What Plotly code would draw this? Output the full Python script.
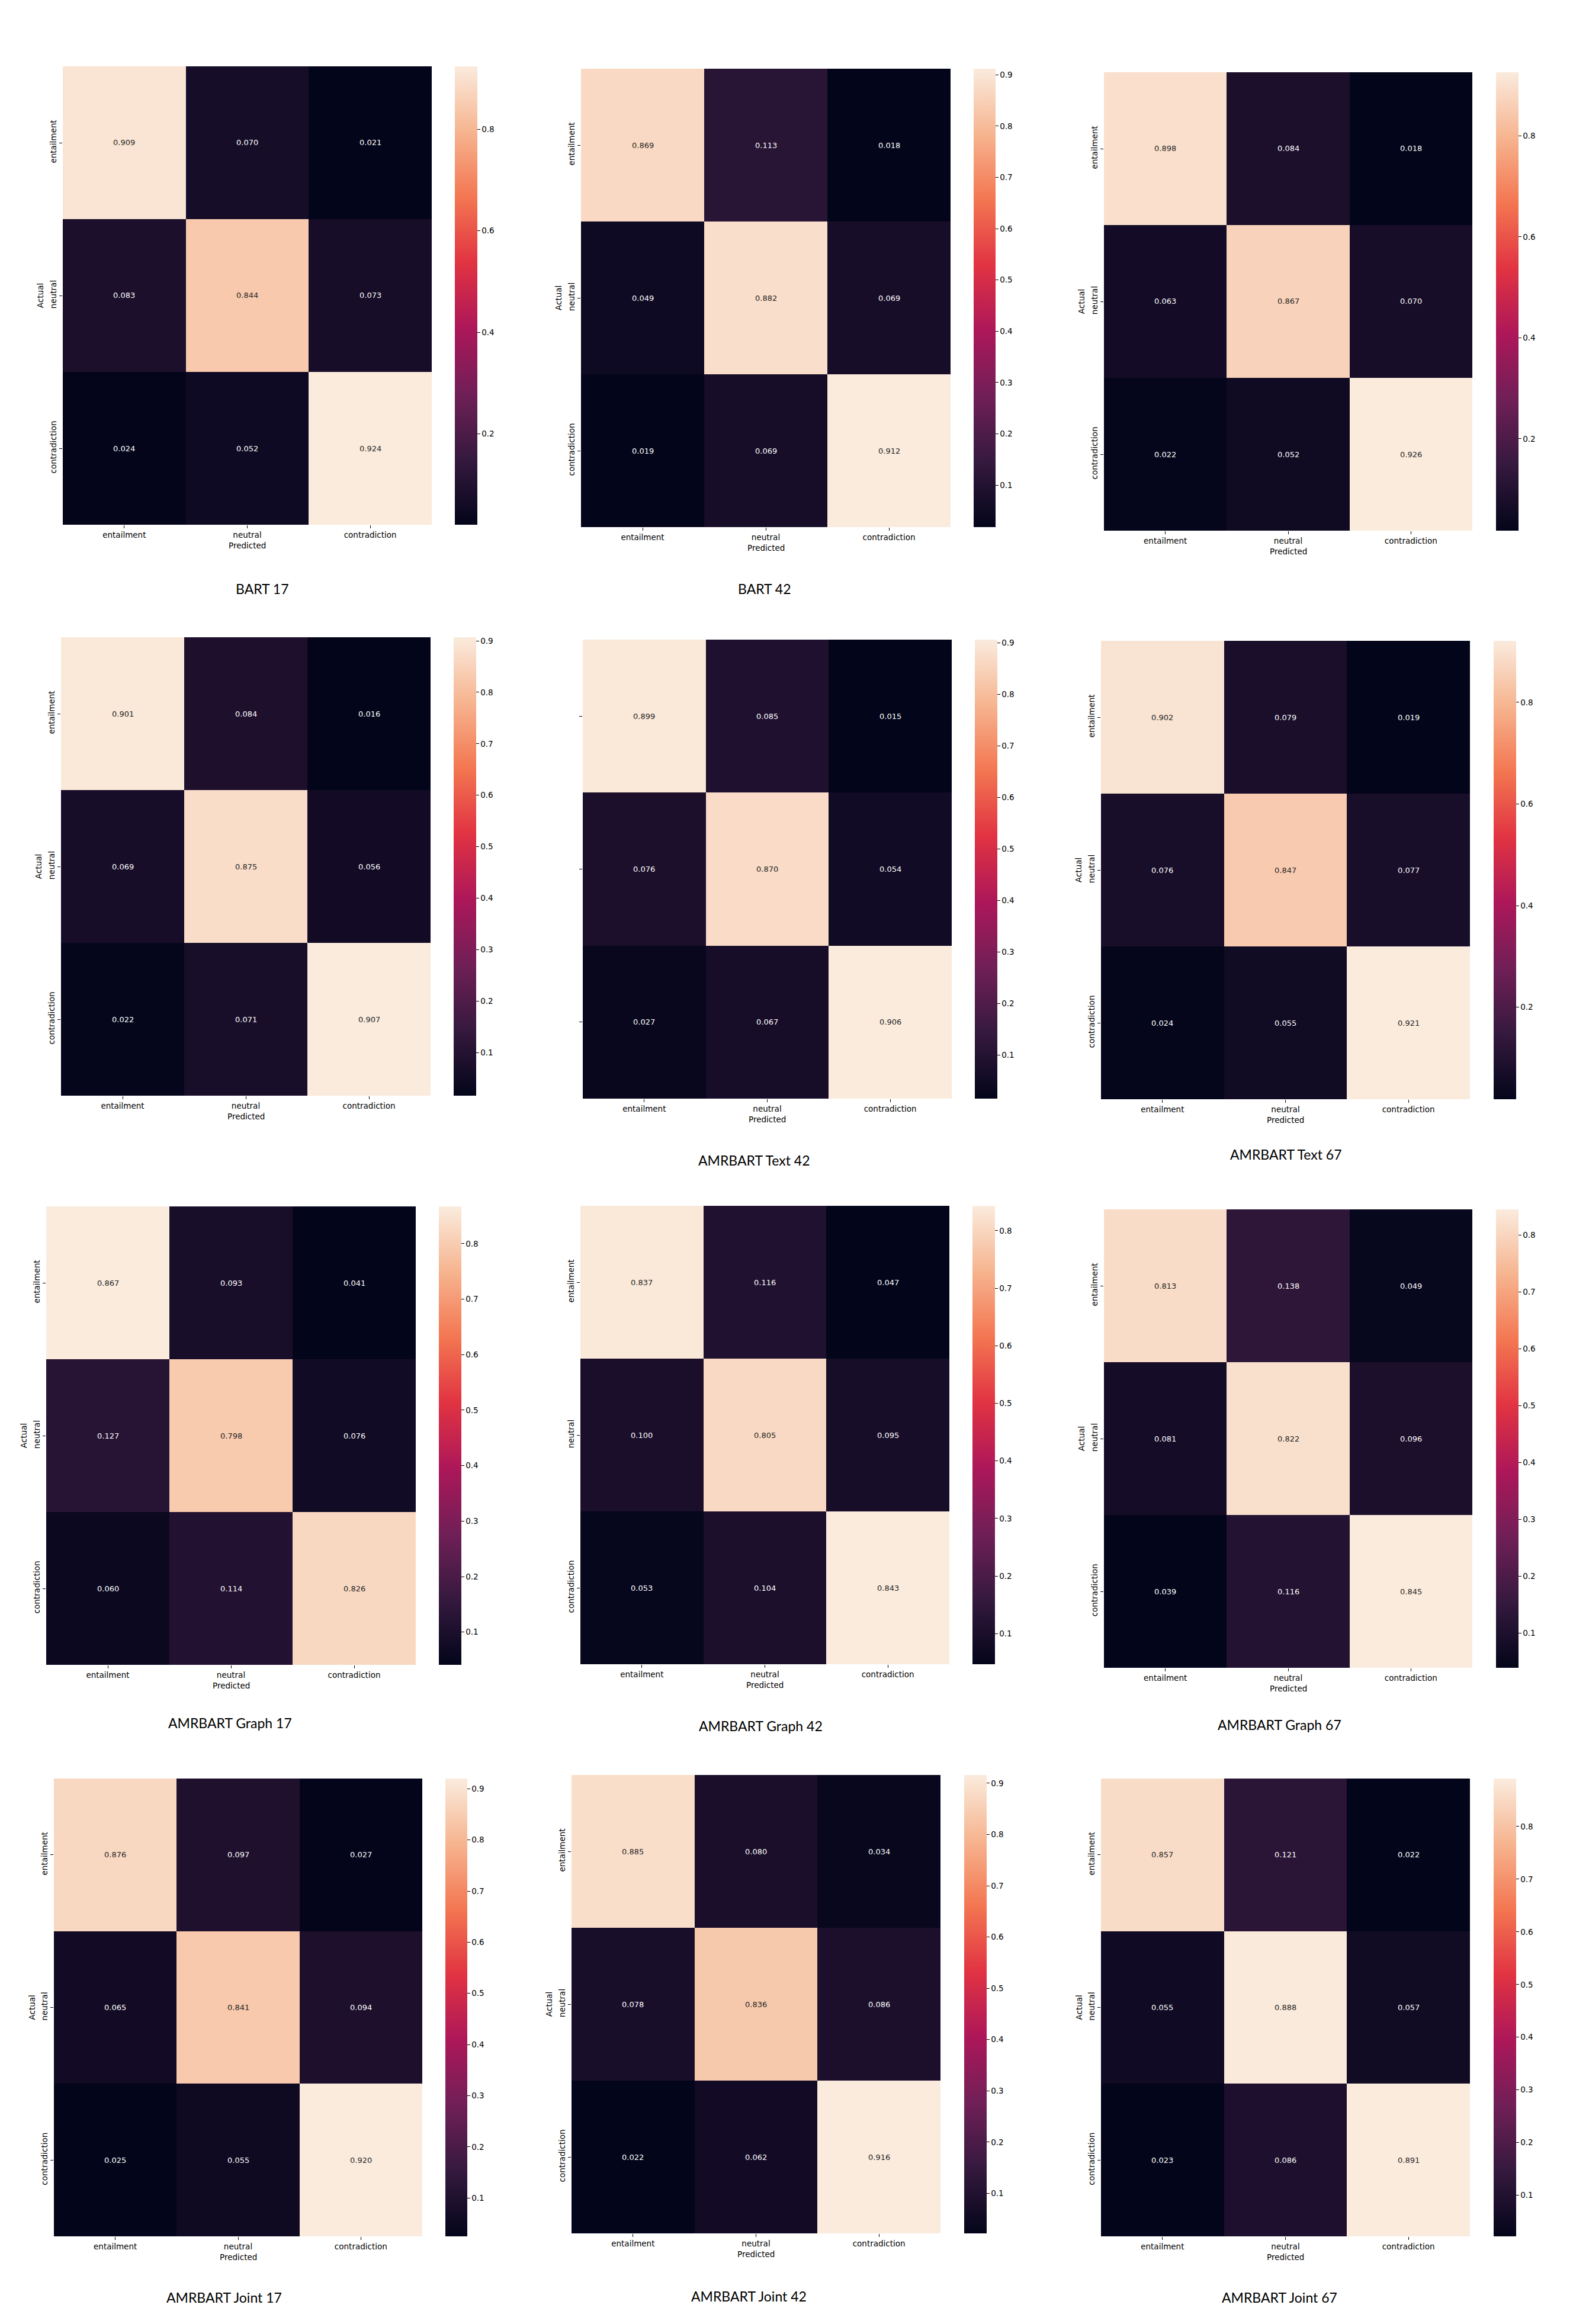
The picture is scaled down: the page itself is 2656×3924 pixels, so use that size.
import plotly.graph_objects as go

W, H = 2656, 3924

labels = ["entailment", "neutral", "contradiction"]

bart_17 = [[0.909, 0.070, 0.021], [0.083, 0.844, 0.073], [0.024, 0.052, 0.924]]
bart_42 = [[0.869, 0.113, 0.018], [0.049, 0.882, 0.069], [0.019, 0.069, 0.912]]
bart_67 = [[0.898, 0.084, 0.018], [0.063, 0.867, 0.070], [0.022, 0.052, 0.926]]
text_17 = [[0.901, 0.084, 0.016], [0.069, 0.875, 0.056], [0.022, 0.071, 0.907]]
text_42 = [[0.899, 0.085, 0.015], [0.076, 0.870, 0.054], [0.027, 0.067, 0.906]]
text_67 = [[0.902, 0.079, 0.019], [0.076, 0.847, 0.077], [0.024, 0.055, 0.921]]
graph_17 = [[0.867, 0.093, 0.041], [0.127, 0.798, 0.076], [0.060, 0.114, 0.826]]
graph_42 = [[0.837, 0.116, 0.047], [0.100, 0.805, 0.095], [0.053, 0.104, 0.843]]
graph_67 = [[0.813, 0.138, 0.049], [0.081, 0.822, 0.096], [0.039, 0.116, 0.845]]
joint_17 = [[0.876, 0.097, 0.027], [0.065, 0.841, 0.094], [0.025, 0.055, 0.920]]
joint_42 = [[0.885, 0.080, 0.034], [0.078, 0.836, 0.086], [0.022, 0.062, 0.916]]
joint_67 = [[0.857, 0.121, 0.022], [0.055, 0.888, 0.057], [0.023, 0.086, 0.891]]

matrices = [bart_17, bart_42, bart_67, text_17, text_42, text_67,
            graph_17, graph_42, graph_67, joint_17, joint_42, joint_67]
titles = ["BART 17", "BART 42", "", "", "AMRBART Text 42", "AMRBART Text 67",
          "AMRBART Graph 17", "AMRBART Graph 42", "AMRBART Graph 67",
          "AMRBART Joint 17", "AMRBART Joint 42", "AMRBART Joint 67"]
cb_steps = [0.2, 0.1, 0.2, 0.1, 0.1, 0.2, 0.1, 0.1, 0.1, 0.1, 0.1, 0.1]

# layout boxes (pixels): heatmap x0,x1,y0,y1, colorbar x0,x1, title cx, cy
boxes = [
    (106, 729, 112, 886, 768, 806, 443, 994),
    (981, 1605, 116, 890, 1644, 1681, 1291, 994),
    (1864, 2486, 122, 896, 2526, 2564, None, None),
    (103, 727, 1076, 1850, 766, 804, None, None),
    (984, 1607, 1080, 1855, 1646, 1684, 1273, 1959),
    (1859, 2482, 1082, 1856, 2522, 2560, 2171, 1949),
    (78, 702, 2037, 2811, 741, 779, 388, 2909),
    (980, 1603, 2036, 2810, 1642, 1680, 1284, 2914),
    (1864, 2486, 2042, 2816, 2526, 2564, 2160, 2912),
    (91, 713, 3003, 3776, 752, 789, 378, 3879),
    (965, 1588, 2997, 3771, 1628, 1666, 1264, 3877),
    (1859, 2482, 3003, 3776, 2522, 2560, 2160, 3879),
]
show_yticklabels = [True, True, True, True, False, True, True, True, True, True, True, True]
show_actual = [True, True, True, True, False, True, True, False, True, True, True, True]

rocket = [
    [0.0, "#03051a"],
    [0.143, "#35193e"],
    [0.286, "#701f57"],
    [0.429, "#ad1759"],
    [0.571, "#e13342"],
    [0.714, "#f37651"],
    [0.857, "#f6b48f"],
    [1.0, "#faebdd"],
]

FONT = "DejaVu Sans"
FS = 13.5

fig = go.Figure()
annotations = []
layout_axes = {}

for i, (z, box) in enumerate(zip(matrices, boxes)):
    hx0, hx1, hy0, hy1, cx0, cx1, tx, ty = box
    k = i + 1
    xa = "x" if k == 1 else f"x{k}"
    ya = "y" if k == 1 else f"y{k}"
    zmin = min(min(r) for r in z)
    zmax = max(max(r) for r in z)
    fig.add_trace(go.Heatmap(
        z=z, x=labels, y=labels, xaxis=xa, yaxis=ya,
        zmin=zmin, zmax=zmax, colorscale=rocket, hoverinfo="skip",
        colorbar=dict(
            x=cx0 / W, xanchor="left", xpad=0, ypad=0,
            thickness=cx1 - cx0, thicknessmode="pixels",
            len=(hy1 - hy0) / H, lenmode="fraction",
            y=1 - (hy0 + hy1) / 2 / H, yanchor="middle",
            outlinewidth=0, ticks="outside", ticklen=5, tickwidth=1,
            tickcolor="black", tickmode="linear", tick0=0, dtick=cb_steps[i],
            tickformat=".1f", tickfont=dict(family=FONT, size=FS, color="black"),
        ),
    ))
    xkey = "xaxis" if k == 1 else f"xaxis{k}"
    ykey = "yaxis" if k == 1 else f"yaxis{k}"
    layout_axes[xkey] = dict(
        domain=[hx0 / W, hx1 / W], anchor=ya, range=[-0.5, 2.5],
        categoryorder="array", categoryarray=labels,
        showgrid=False, zeroline=False, showline=False,
        ticks="outside", ticklen=5, tickcolor="black",
        tickfont=dict(family=FONT, size=FS, color="black"), fixedrange=True,
    )
    layout_axes[ykey] = dict(
        domain=[1 - hy1 / H, 1 - hy0 / H], anchor=xa, range=[2.5, -0.5],
        categoryorder="array", categoryarray=labels,
        showgrid=False, zeroline=False, showline=False,
        ticks="outside", ticklen=5, tickcolor="black", tickangle=-90,
        showticklabels=show_yticklabels[i],
        tickfont=dict(family=FONT, size=FS, color="black"), fixedrange=True,
    )
    # cell annotations
    for r, row in enumerate(z):
        for c, v in enumerate(row):
            frac = (v - zmin) / (zmax - zmin)
            col = "#262626" if frac > 0.6 else "white"
            annotations.append(dict(
                x=labels[c], y=labels[r], xref=xa, yref=ya, text=f"{v:.3f}",
                showarrow=False, font=dict(family=FONT, size=13, color=col),
            ))
    # Predicted label
    annotations.append(dict(
        x=(hx0 + hx1) / 2 / W, y=1 - (hy1 + 35) / H, xref="paper", yref="paper",
        text="Predicted", showarrow=False, xanchor="center", yanchor="middle",
        font=dict(family=FONT, size=FS, color="black"),
    ))
    if show_actual[i]:
        annotations.append(dict(
            x=(hx0 - 38) / W, y=1 - (hy0 + hy1) / 2 / H, xref="paper", yref="paper",
            text="Actual", showarrow=False, textangle=-90,
            xanchor="center", yanchor="middle",
            font=dict(family=FONT, size=FS, color="black"),
        ))
    if titles[i]:
        annotations.append(dict(
            x=tx / W, y=1 - ty / H, xref="paper", yref="paper",
            text=titles[i], showarrow=False, xanchor="center", yanchor="middle",
            font=dict(family="Lato", size=23, color="black"),
        ))

fig.update_layout(
    width=W, height=H, margin=dict(l=0, r=0, t=0, b=0),
    paper_bgcolor="white", plot_bgcolor="white",
    showlegend=False, annotations=annotations, **layout_axes,
)

fig.write_html("out.html", config={"displayModeBar": False})
